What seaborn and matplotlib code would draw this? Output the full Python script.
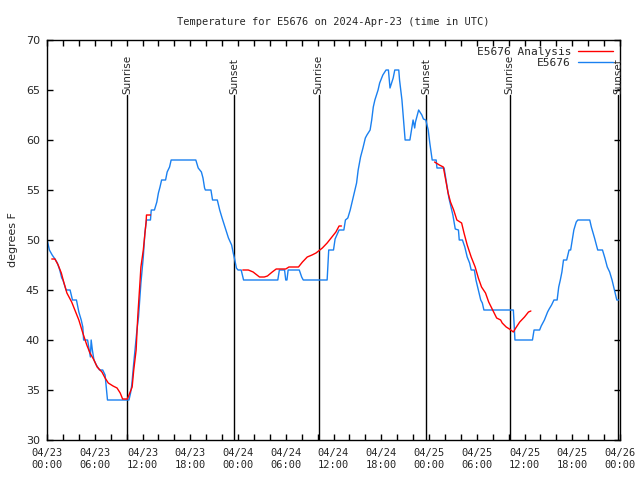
import matplotlib
matplotlib.use("Agg")
import matplotlib.pyplot as plt
import seaborn as sns
import pandas as pd
from matplotlib.lines import Line2D

sns.set_style("ticks")
plt.rcParams['font.family'] = ['DejaVu Sans Mono', 'DejaVu Sans']

# Observed temperature (hours since 04/23 00:00 UTC, deg F)
obs_hours = [0.0, 0.3, 0.65, 1.0, 1.3, 1.6, 1.85, 2.0, 2.4, 2.9, 3.2, 3.7, 4.0, 4.3, 4.5, 4.6, 5.1, 5.3, 5.45,
             5.55, 5.7, 5.9, 6.2, 6.6, 7.0, 7.3, 7.4, 7.6, 10.3, 10.5, 10.65, 10.9, 11.1, 11.3, 11.5, 11.8, 12.1,
             12.3, 12.5, 13.0, 13.1, 13.5, 13.8, 14.0, 14.2, 14.4, 14.9, 15.1, 15.4, 15.6, 18.7, 19.0, 19.4, 19.6,
             19.8, 19.9, 20.6, 20.8, 21.4, 21.7, 22.0, 22.4, 22.8, 23.2, 23.4, 23.6, 23.8, 24.0, 24.4, 24.7, 29.0,
             29.2, 29.85, 30.0, 30.15, 30.3, 31.7, 32.0, 32.2, 35.2, 35.4, 36.0, 36.2, 36.7, 37.3, 37.5, 37.8, 38.1,
             38.4, 38.6, 38.9, 39.1, 39.4, 39.7, 40.0, 40.2, 40.6, 40.8, 41.0, 41.2, 41.6, 41.8, 42.2, 42.6, 42.9,
             43.1, 43.3, 43.5, 43.7, 44.2, 44.3, 44.6, 44.8, 45.0, 45.6, 45.8, 46.0, 46.2, 46.3, 46.7, 47.1, 47.3,
             47.6, 47.9, 48.1, 48.4, 48.9, 49.0, 49.9, 50.1, 50.3, 50.5, 50.8, 51.0, 51.3, 51.7, 51.8, 52.2, 52.5,
             52.8, 53.1, 53.3, 53.7, 53.9, 54.2, 54.5, 54.7, 54.9, 58.6, 58.8, 61.0, 61.2, 61.9, 62.1, 62.5, 62.9,
             63.1, 63.4, 63.7, 64.1, 64.3, 64.5, 64.7, 64.9, 65.3, 65.6, 65.8, 66.0, 66.2, 66.5, 66.7, 68.2, 68.4,
             68.8, 69.2, 69.8, 70.1, 70.4, 70.7, 71.0, 71.3, 71.6, 71.8]
obs_temp = [50.1, 49.0, 48.5, 48.1, 47.7, 47.0, 46.2, 46.0, 45.0, 45.0, 44.0, 44.0, 42.8, 42.0, 41.3, 40.0, 40.0,
            39.0, 38.3, 40.0, 39.0, 38.0, 37.5, 37.0, 37.0, 36.5, 35.7, 34.0, 34.0, 34.7, 35.5, 37.7, 39.3, 41.0,
            42.3, 45.7, 48.3, 50.7, 52.0, 52.0, 53.0, 53.0, 53.8, 54.7, 55.3, 56.0, 56.0, 56.8, 57.3, 58.0, 58.0,
            57.2, 56.8, 56.2, 55.2, 55.0, 55.0, 54.0, 54.0, 53.0, 52.2, 51.2, 50.2, 49.5, 48.7, 48.0, 47.2, 47.0,
            47.0, 46.0, 46.0, 47.0, 47.0, 46.0, 46.0, 47.0, 47.0, 46.3, 46.0, 46.0, 49.0, 49.0, 50.1, 51.0, 51.0,
            52.0, 52.2, 53.0, 54.0, 54.7, 55.7, 57.0, 58.3, 59.2, 60.2, 60.5, 61.0, 62.0, 63.3, 64.0, 65.0, 65.7,
            66.5, 67.0, 67.0, 65.2, 65.7, 66.2, 67.0, 67.0, 66.0, 64.0, 62.0, 60.0, 60.0, 61.0, 62.0, 61.2, 61.8,
            63.0, 62.5, 62.1, 62.0, 61.0, 59.7, 58.0, 58.0, 57.2, 57.2, 56.2, 55.2, 54.2, 53.2, 52.5, 51.1, 51.0,
            50.0, 50.0, 49.3, 48.3, 47.7, 47.0, 47.0, 46.0, 45.0, 44.0, 43.7, 43.0, 43.0, 40.0, 40.0, 41.0, 41.0,
            41.4, 42.0, 42.8, 43.1, 43.5, 44.0, 44.0, 45.3, 46.0, 46.8, 48.0, 48.0, 49.0, 49.0, 50.0, 51.0, 51.8,
            52.0, 52.0, 51.3, 50.2, 49.0, 49.0, 48.2, 47.3, 46.8, 46.0, 45.0, 44.0, 44.0]

# Analysis temperature, three separate segments
ana1_hours = [0.6, 1.0, 1.4, 1.8, 2.1, 2.5, 3.1, 3.5, 4.0, 4.5, 5.0, 5.4, 5.9, 6.3, 6.9, 7.3, 7.7, 8.3, 8.8, 9.2,
              9.5, 10.1, 10.4, 10.7, 10.9, 11.2, 11.4, 11.7, 11.8, 12.1, 12.45, 12.5, 13.0]
ana1_temp = [48.1, 48.1, 47.5, 46.7, 45.8, 44.7, 43.8, 43.0, 42.0, 40.7, 39.5, 38.7, 38.0, 37.3, 36.8, 36.2, 35.7,
             35.4, 35.2, 34.7, 34.1, 34.1, 34.7, 35.3, 37.0, 39.0, 42.3, 46.0, 47.3, 49.0, 51.8, 52.5, 52.5]
ana2_hours = [24.6, 25.3, 25.9, 26.7, 27.3, 27.7, 28.3, 28.8, 30.0, 30.4, 31.6, 32.1, 32.7, 33.3, 33.8, 34.6, 35.2,
              35.8, 36.3, 36.7, 37.0]
ana2_temp = [47.0, 47.0, 46.8, 46.3, 46.3, 46.4, 46.8, 47.1, 47.1, 47.3, 47.3, 47.8, 48.3, 48.5, 48.7, 49.2, 49.7,
             50.3, 50.8, 51.4, 51.4]
ana3_hours = [48.7, 49.3, 49.8, 50.1, 50.4, 50.7, 51.1, 51.5, 52.1, 52.4, 52.8, 53.3, 53.8, 54.2, 54.6, 55.1, 55.5,
              56.0, 56.5, 57.0, 57.2, 57.7, 58.1, 58.6, 58.9, 59.4, 60.0, 60.5, 60.8]
ana3_temp = [57.8, 57.5, 57.3, 56.0, 54.7, 53.8, 53.0, 52.0, 51.7, 50.7, 49.5, 48.3, 47.3, 46.2, 45.3, 44.7, 43.8,
             43.0, 42.2, 42.0, 41.7, 41.3, 41.1, 40.8, 41.2, 41.8, 42.3, 42.8, 42.9]

sun_hours = [10.08, 23.55, 34.12, 47.67, 58.12, 71.8]
sun_labels = ["Sunrise", "Sunset", "Sunrise", "Sunset", "Sunrise", "Sunset"]

xtick_hours = [0, 6, 12, 18, 24, 30, 36, 42, 48, 54, 60, 66, 72]
xtick_labels = ["04/23\n00:00", "04/23\n06:00", "04/23\n12:00", "04/23\n18:00",
                "04/24\n00:00", "04/24\n06:00", "04/24\n12:00", "04/24\n18:00",
                "04/25\n00:00", "04/25\n06:00", "04/25\n12:00", "04/25\n18:00",
                "04/26\n00:00"]
ytick_values = [30, 35, 40, 45, 50, 55, 60, 65, 70]

obs_df = pd.DataFrame({"hours": obs_hours, "temp": obs_temp})
ana_df = pd.concat([
    pd.DataFrame({"hours": ana1_hours, "temp": ana1_temp, "seg": 1}),
    pd.DataFrame({"hours": ana2_hours, "temp": ana2_temp, "seg": 2}),
    pd.DataFrame({"hours": ana3_hours, "temp": ana3_temp, "seg": 3}),
])

fig = plt.figure(figsize=(6.4, 4.8), dpi=100)
ax = fig.add_axes([47 / 640, 1 - 440 / 480, 573 / 640, 400 / 480])

for h, lab in zip(sun_hours, sun_labels):
    ax.plot([h, h], [30, 64.5], color="black", lw=1.0, zorder=1)
    ax.text(h, 64.6, lab, rotation=90, ha="center", va="bottom", fontsize=7.5,
            family=["DejaVu Sans", "DejaVu Sans Mono"])

sns.lineplot(data=ana_df, x="hours", y="temp", units="seg", estimator=None, sort=False,
             color="#ff0000", lw=1.0, ax=ax, zorder=3)
sns.lineplot(data=obs_df, x="hours", y="temp", sort=False, estimator=None,
             color="#1a80f0", lw=1.0, ax=ax, zorder=2)

handles = [Line2D([], [], color="#ff0000", lw=1.0), Line2D([], [], color="#1a80f0", lw=1.0)]
leg = ax.legend(handles, ["E5676 Analysis", "E5676"], loc="upper right", frameon=False,
                markerfirst=False, fontsize=8, handlelength=3.2, handletextpad=0.6,
                borderaxespad=0.2, labelspacing=0.1)

ax.set_xlim(0, 72)
ax.set_ylim(30, 70)
ax.set_xticks(xtick_hours)
ax.set_xticklabels(xtick_labels, fontsize=7.5)
ax.set_xticks(list(range(0, 73, 2)), minor=True)
ax.set_yticks(ytick_values)
ax.set_yticklabels([str(v) for v in ytick_values], fontsize=8, family=["DejaVu Sans"])
ax.tick_params(which="both", direction="in", top=True, right=True, length=4, width=1, color="black")
ax.tick_params(axis="x", which="major", pad=6)
ax.tick_params(axis="y", which="major", pad=5)
for s in ax.spines.values():
    s.set_color("black")
    s.set_linewidth(1.0)
ax.set_xlabel("")
ax.set_ylabel("degrees F", fontsize=8, family=["DejaVu Sans"], labelpad=6)
ax.set_title("Temperature for E5676 on 2024-Apr-23 (time in UTC)", fontsize=7.5, pad=11)

fig.savefig("out.png", dpi=100)
